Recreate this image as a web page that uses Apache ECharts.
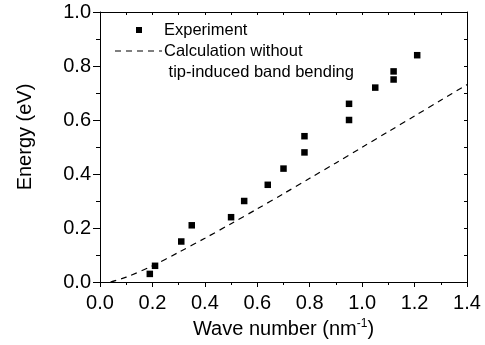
<!DOCTYPE html>
<html>
<head>
<meta charset="utf-8">
<script src="https://cdn.jsdelivr.net/npm/echarts@6/dist/echarts.min.js"></script>
<style>
html,body{margin:0;padding:0;background:#fff;}
#chart{width:485px;height:345px;}
</style>
</head>
<body>
<div id="chart"></div>
<script>
// Experimental points [wave number (nm^-1), energy (eV)]
const experimentK = [0.19, 0.21, 0.31, 0.35, 0.50, 0.55, 0.64, 0.70, 0.78, 0.78, 0.95, 0.95, 1.05, 1.12, 1.12, 1.21];
const experimentE = [0.03, 0.06, 0.15, 0.21, 0.24, 0.30, 0.36, 0.42, 0.48, 0.54, 0.60, 0.66, 0.72, 0.75, 0.78, 0.84];
// Calculation without tip-induced band bending
const calcK = [0.04, 0.1, 0.2, 0.3, 0.4, 0.5, 0.6, 0.7, 0.8, 0.9, 1.0, 1.1, 1.2, 1.3, 1.4];
const calcE = [0.0, 0.018, 0.06, 0.11, 0.162, 0.216, 0.271, 0.327, 0.384, 0.441, 0.499, 0.557, 0.615, 0.673, 0.731];
const xTicks = [0.0, 0.2, 0.4, 0.6, 0.8, 1.0, 1.2, 1.4];
const yTicks = [0.0, 0.2, 0.4, 0.6, 0.8, 1.0];
const seriesNames = ['Experiment', 'Calculation without', ' tip-induced band bending'];

const FONT = '"Liberation Sans", Arial, sans-serif';
const chart = echarts.init(document.getElementById('chart'), null, {renderer: 'canvas'});
const L = {left: 100, right: 18, top: 12, bottom: 63};

const axisLine = {show: true, onZero: false, lineStyle: {color: '#000', width: 1}};
const fmt = v => Number(v).toFixed(1);

chart.setOption({
  animation: false,
  backgroundColor: '#fff',
  grid: {left: L.left, right: L.right, top: L.top, bottom: L.bottom, containLabel: false},
  xAxis: [
    {
      type: 'value', position: 'bottom',
      min: xTicks[0], max: xTicks[xTicks.length - 1], interval: 0.2,
      axisLine: axisLine,
      axisTick: {show: true, inside: false, length: 5, lineStyle: {color: '#000'}},
      minorTick: {show: true, splitNumber: 2, length: 3, lineStyle: {color: '#000'}},
      splitLine: {show: false},
      axisLabel: {fontSize: 20, fontFamily: FONT, color: '#000', margin: 11, formatter: fmt},
      name: 'Wave number (nm{sup|-1})',
      nameLocation: 'middle', nameGap: 32,
      nameTextStyle: {fontSize: 20, fontFamily: FONT, color: '#000',
        rich: {sup: {fontSize: 12, fontFamily: FONT, color: '#000', verticalAlign: 'top', padding: [0, 0, 12, 0]}}}
    },
    {
      type: 'value', position: 'top',
      min: xTicks[0], max: xTicks[xTicks.length - 1], interval: 0.1,
      axisLine: axisLine,
      axisTick: {show: true, inside: true, length: 3, lineStyle: {color: '#000'}},
      axisLabel: {show: false}, splitLine: {show: false}
    }
  ],
  yAxis: [
    {
      type: 'value', position: 'left',
      min: yTicks[0], max: yTicks[yTicks.length - 1], interval: 0.2,
      axisLine: axisLine,
      axisTick: {show: true, inside: false, length: 7, lineStyle: {color: '#000'}},
      minorTick: {show: true, splitNumber: 2, length: 4, lineStyle: {color: '#000'}},
      splitLine: {show: false},
      axisLabel: {fontSize: 20, fontFamily: FONT, color: '#000', margin: 9, formatter: fmt}
    },
    {
      type: 'value', position: 'right',
      min: yTicks[0], max: yTicks[yTicks.length - 1], interval: 0.1,
      axisLine: axisLine,
      axisTick: {show: true, inside: true, length: 3, lineStyle: {color: '#000'}},
      axisLabel: {show: false}, splitLine: {show: false}
    }
  ],
  series: [
    {
      name: seriesNames[0], type: 'scatter', xAxisIndex: 0, yAxisIndex: 0,
      symbol: 'rect', symbolSize: 6.5,
      itemStyle: {color: '#000', opacity: 1},
      data: experimentK.map((k, i) => [k, experimentE[i]])
    },
    {
      name: seriesNames[1], type: 'line', xAxisIndex: 0, yAxisIndex: 0,
      showSymbol: false, symbol: 'none', smooth: 0.3,
      lineStyle: {color: '#000', width: 1.2, type: [6, 5]},
      data: calcK.map((k, i) => [k, calcE[i]])
    }
  ],
  graphic: [
    {type: 'text', x: 25, y: 137, rotation: Math.PI / 2,
      style: {text: 'Energy (eV)', font: '20px ' + FONT, fill: '#000', align: 'center', verticalAlign: 'middle'}},
    {type: 'rect', shape: {x: 136, y: 27, width: 6, height: 6}, style: {fill: '#000'}},
    {type: 'text', x: 164, y: 30,
      style: {text: seriesNames[0], font: '16.5px ' + FONT, fill: '#000', align: 'left', verticalAlign: 'middle'}},
    {type: 'line', shape: {x1: 115, y1: 51, x2: 162, y2: 51},
      style: {stroke: '#000', lineWidth: 1.2, lineDash: [6, 5]}},
    {type: 'text', x: 164, y: 51,
      style: {text: seriesNames[1], font: '16.5px ' + FONT, fill: '#000', align: 'left', verticalAlign: 'middle'}},
    {type: 'text', x: 164, y: 72,
      style: {text: seriesNames[2], font: '16.5px ' + FONT, fill: '#000', align: 'left', verticalAlign: 'middle'}}
  ]
});
</script>
</body>
</html>
